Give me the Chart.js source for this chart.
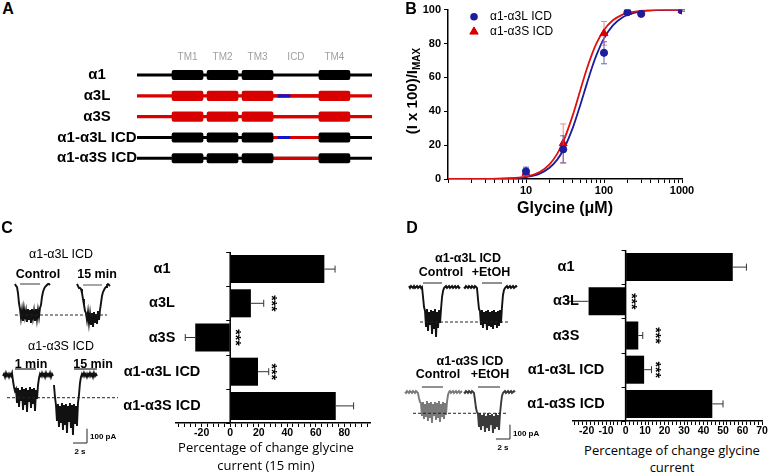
<!DOCTYPE html>
<html><head><meta charset="utf-8">
<script src="https://cdn.jsdelivr.net/npm/chart.js@4.4.1/dist/chart.umd.min.js"></script>
<style>
html,body{margin:0;padding:0;background:#fff;}
#root{position:relative;width:769px;height:473px;overflow:hidden;background:#fff;font-family:"Liberation Sans",Arial,sans-serif;color:#000;}
#root canvas{position:absolute;}
.t{position:absolute;white-space:nowrap;transform:translate(-50%,-50%);line-height:1;}
.l{position:absolute;white-space:nowrap;transform:translate(0,-50%);line-height:1;}
</style></head>
<body><div id="root"></div>
<script>
// ---------------- DATA ----------------
// Panel A: construct schematic (relative position along subunit, 0-100)
const schemeRows = ['α1','α3L','α3S','α1-α3L ICD','α1-α3S ICD'];
const domainLabels = ['TM1','TM2','TM3','ICD','TM4'];
const tmStart = [14.9, 29.8, 44.7, 77.4];
const tmEnd   = [28.1, 43.0, 57.9, 90.6];
const icdSpan = [57.9, 77.4];
const insertSpan = [60.0, 65.1];
const rowIsA3    = [false, true, true, false, false];
const rowA3Icd   = [false, true, true, true, true];
const rowInsert  = [false, true, false, true, false];

// Panel B: glycine concentration-response
const l3X   = [10, 30, 100, 200, 300, 1000];
const l3Y   = [4.5, 17.5, 74.5, 98.5, 97.5, 99.5];
const l3Err = [2.5, 8, 6.5, 1, 1, 0.5];
const s3X   = [10, 30, 100, 200, 1000];
const s3Y   = [3.5, 21, 86, 98.5, 99.5];
const s3Err = [1.5, 11.5, 7, 1, 0.5];
const fitX  = [1, 2, 5, 8, 10, 15, 20, 25, 30, 40, 50, 60, 70, 80, 100, 130, 170, 200, 300, 500, 1000];
const l3Fit = [0, 0.02, 0.19, 0.63, 1.13, 3.2, 6.6, 11.3, 17.1, 30.5, 44.1, 56.0, 65.7, 73.1, 83.0, 90.7, 95.2, 96.8, 98.9, 99.7, 99.9];
const s3Fit = [0, 0.02, 0.22, 0.78, 1.41, 4.1, 8.6, 14.7, 22.0, 38.0, 52.9, 64.8, 73.6, 80.1, 88.0, 93.7, 96.9, 98.0, 99.3, 99.8, 99.9];
const logTickVals = [1,2,3,4,5,6,7,8,9,10,20,30,40,50,60,70,80,90,100,200,300,400,500,600,700,800,900,1000];
const logTickLabels = [10, 100, 1000];
const bYTicks = [0, 20, 40, 60, 80, 100];

// Panels C & D: bar charts
const barCats = ['α1','α3L','α3S','α1-α3L ICD','α1-α3S ICD'];
const c15Mean = [66, 14.5, -24.5, 19.5, 74];
const c15Sem  = [7.5, 9, 7, 7.5, 12.5];
const c15Sig  = ['', '***', '***', '***', ''];
const cTickLabels = [-20, 0, 20, 40, 60, 80];
const dEtohMean = [55, -19, 6.5, 9.5, 44.5];
const dEtohSem  = [7, 10.5, 2.3, 3.8, 5.5];
const dEtohSig  = ['', '***', '***', '***', ''];
const dTickLabels = [-20, -10, 0, 10, 20, 30, 40, 50, 60, 70];

// Current traces (pA, sampled every TRACE_DT s)
const TRACE_DT = 1/7;
const cL3Ctrl = [21,7,0,-42,-112,-154,-217,-161,-238,-154,-210,-168,-245,-154,-231,-161,-252,-154,-217,-168,-238,-154,-224,-161,-210,-147,-126,-70,-35,-14,0,7,14,21,21,14];
const cL3Min15 = [21,7,-7,-7,-14,-42,-84,-126,-168,-182,-231,-175,-252,-189,-266,-182,-280,-175,-245,-189,-259,-168,-231,-161,-112,-63,-35,-21,-7,0,14,21,14,7];
const cS3Min1 = [-7,7,-14,14,-7,7,-14,7,-7,14,-42,-84,-112,-98,-196,-91,-224,-105,-182,-84,-245,-98,-210,-91,-259,-105,-189,-84,-231,-98,-203,-91,-252,-105,-168,-70,-21,7,-7,14,-7,7,-14,14,-7,7,-7,14,-14,7,-7];
const cS3Min15 = [-70,-154,-210,-322,-203,-364,-217,-336,-196,-385,-210,-350,-203,-406,-217,-329,-196,-371,-210,-420,-203,-343,-217,-357,-196,-140,-56,-14,7,-7,14,-7,7,-14,7,-7,14,-7,7,-14,14,-7,7,-7];
const dL3Ctrl = [7,-7,7,0,-7,7,-7,0,7,-7,0,7,-7,0,-70,-140,-168,-280,-154,-308,-175,-266,-161,-329,-168,-294,-154,-350,-175,-287,-161,-252,-154,-70,-28,-7,0,7,-7,0,7,-7,0,7,-7,0,7,-7,0,7,-7,0];
const dL3Etoh = [0,-7,7,0,-7,7,0,-7,7,0,-7,7,0,-7,-84,-154,-168,-266,-161,-287,-175,-259,-168,-301,-161,-273,-175,-280,-168,-294,-161,-266,-175,-287,-168,-273,-161,-252,-140,-56,-21,-7,0,7,-7,0,7,-7,0,7,-7,0,7,0];
const dS3Ctrl = [0,-7,7,0,-7,7,0,-7,7,0,-7,7,0,-7,-42,-70,-77,-168,-70,-189,-84,-175,-63,-203,-77,-182,-70,-217,-84,-168,-70,-196,-77,-182,-63,-210,-84,-175,-70,-189,-77,-161,-70,-21,0,7,-7,0,7,-7,0,7,-7,0,7,-7,0,7];
const dS3Etoh = [0,-7,7,0,-7,7,0,-7,7,0,-7,-56,-112,-140,-154,-245,-147,-266,-161,-238,-154,-280,-168,-252,-147,-273,-161,-231,-154,-287,-168,-259,-147,-245,-161,-266,-154,-84,-28,-7,0,7,-7,0,7,-7,0,7,-7,0,7,0];

// ---------------- SETUP ----------------
const FONT = '"Liberation Sans", Arial, sans-serif';
Chart.defaults.font.family = FONT;
Chart.defaults.color = '#000';
Chart.defaults.animation = false;
Chart.defaults.responsive = false;
Chart.defaults.devicePixelRatio = 1;
Chart.defaults.events = [];
Chart.defaults.plugins.legend.display = false;
Chart.defaults.plugins.tooltip.enabled = false;

const root = document.getElementById('root');
function addCanvas(left, top, w, h) {
  const c = document.createElement('canvas');
  c.width = w; c.height = h;
  c.style.left = left + 'px'; c.style.top = top + 'px';
  c.style.width = w + 'px'; c.style.height = h + 'px';
  root.appendChild(c);
  return c;
}
function txt(s, x, y, font, cls, extra) {
  const d = document.createElement('div');
  d.className = cls || 't';
  d.style.left = x + 'px'; d.style.top = y + 'px';
  d.style.font = font;
  if (extra) d.style.cssText += extra;
  d.innerHTML = s;
  root.appendChild(d);
  return d;
}
const pts = (xs, ys) => xs.map((x, i) => ({x, y: ys[i]}));
const series = (vals, t0) => vals.map((v, i) => ({x: t0 + i * TRACE_DT, y: v}));

const BLACK = '#000', RED = '#d90000', BLUE = '#1515c8';

// ---------------- PANEL A ----------------
const domainMid = [
  (tmStart[0]+tmEnd[0])/2, (tmStart[1]+tmEnd[1])/2, (tmStart[2]+tmEnd[2])/2,
  (icdSpan[0]+icdSpan[1])/2, (tmStart[3]+tmEnd[3])/2
];
const schemePlugin = {
  id: 'scheme',
  afterDatasetsDraw(chart) {
    const {ctx, scales: {x, y}} = chart;
    ctx.save();
    ctx.fillStyle = '#000';
    ctx.font = 'bold 15px ' + FONT;
    ctx.textAlign = 'center'; ctx.textBaseline = 'middle';
    schemeRows.forEach((r, i) => ctx.fillText(r, 97, y.getPixelForValue(i)));
    ctx.fillStyle = '#a0a0a0';
    ctx.font = '10px ' + FONT;
    domainMid.forEach((m, i) => ctx.fillText(domainLabels[i], x.getPixelForValue(m), 17));
    ctx.restore();
  }
};
const rowColors = rowIsA3.map(a => a ? RED : BLACK);
const aDatasets = [
  {data: schemeRows.map(() => [0, 100]), backgroundColor: rowColors, barThickness: 2.5, grouped: false, order: 5},
  {data: rowA3Icd.map(f => f ? icdSpan : null), backgroundColor: RED, barThickness: 2.5, grouped: false, order: 4},
  {data: rowInsert.map(f => f ? insertSpan : null), backgroundColor: BLUE, barThickness: 2.5, grouped: false, order: 3},
  ...tmStart.map((s, i) => ({data: schemeRows.map(() => [s, tmEnd[i]]), backgroundColor: rowColors,
      barThickness: 9.5, borderRadius: 2, borderSkipped: false, grouped: false, order: 1}))
];
new Chart(addCanvas(0, 40, 380, 140), {
  type: 'bar',
  data: {labels: schemeRows, datasets: aDatasets},
  options: {
    indexAxis: 'y',
    layout: {padding: {left: 137, right: 8, top: 24.6, bottom: 11.3}},
    scales: {
      x: {type: 'linear', min: 0, max: 100, display: false},
      y: {display: false}
    }
  },
  plugins: [schemePlugin]
});

// ---------------- PANEL B ----------------
const errPlugin = {
  id: 'errB',
  beforeDatasetDraw(chart, args) {
    const ds = chart.data.datasets[args.index];
    if (!ds.errorBars) return;
    const {ctx, scales: {x, y}} = chart;
    ctx.save();
    ctx.strokeStyle = ds.errColor; ctx.lineWidth = 1;
    ds.data.forEach((p, i) => {
      const e = ds.errorBars[i];
      const px = x.getPixelForValue(p.x);
      const y1 = y.getPixelForValue(p.y + e), y2 = y.getPixelForValue(Math.max(0, p.y - e));
      ctx.beginPath();
      ctx.moveTo(px, y1); ctx.lineTo(px, y2);
      ctx.moveTo(px - 3, y1); ctx.lineTo(px + 3, y1);
      ctx.moveTo(px - 3, y2); ctx.lineTo(px + 3, y2);
      ctx.stroke();
    });
    ctx.restore();
  }
};
const legendB = {
  id: 'legB',
  afterDraw(chart) {
    const ctx = chart.ctx;
    ctx.save();
    ctx.fillStyle = '#1c1c9c';
    ctx.beginPath(); ctx.arc(94, 16.7, 3.8, 0, Math.PI*2); ctx.fill();
    ctx.fillStyle = RED; ctx.strokeStyle = RED;
    Chart.helpers.drawPoint(ctx, {pointStyle: 'triangle', radius: 4.8, rotation: 0, borderWidth: 1}, 94, 31.7);
    ctx.fill();
    ctx.fillStyle = '#000';
    ctx.font = '12px ' + FONT; ctx.textBaseline = 'middle'; ctx.textAlign = 'left';
    ctx.fillText('α1-α3L ICD', 110, 16.7);
    ctx.fillText('α1-α3S ICD', 110, 31.7);
    ctx.restore();
  }
};
new Chart(addCanvas(380, 0, 389, 200), {
  type: 'line',
  data: {datasets: [
    {data: pts(l3X, l3Y), showLine: false, pointStyle: 'circle', pointRadius: 3.6,
     backgroundColor: '#1c1c9c', borderColor: '#1c1c9c', errorBars: l3Err, errColor: '#6464b4'},
    {data: pts(s3X, s3Y), showLine: false, pointStyle: 'triangle', pointRadius: 4.6,
     backgroundColor: RED, borderColor: RED, errorBars: s3Err, errColor: '#ec8a8a'},
    {data: pts(fitX, s3Fit), borderColor: '#e01010', borderWidth: 1.8, pointRadius: 0, cubicInterpolationMode: 'monotone', fill: false},
    {data: pts(fitX, l3Fit), borderColor: '#1c1c9c', borderWidth: 1.8, pointRadius: 0, cubicInterpolationMode: 'monotone', fill: false}
  ]},
  options: {
    layout: {padding: {left: 0, right: 87, top: 8, bottom: 0}},
    scales: {
      x: {type: 'logarithmic', min: 1, max: 1000,
          afterBuildTicks: s => { s.ticks = logTickVals.map(v => ({value: v})); },
          afterFit: s => { s.height = 21; },
          ticks: {autoSkip: false, maxRotation: 0, padding: 1, font: {size: 11, weight: 'bold'}, color: '#000',
                  callback: v => logTickLabels.includes(v) ? String(v) : ''},
          grid: {drawOnChartArea: false, tickLength: 4, color: '#000'},
          border: {color: '#000', width: 1.5}},
      y: {type: 'linear', min: 0, max: 100,
          afterBuildTicks: s => { s.ticks = bYTicks.map(v => ({value: v})); },
          afterFit: s => { s.width = 68; },
          ticks: {padding: 3, font: {size: 11, weight: 'bold'}, color: '#000'},
          grid: {drawOnChartArea: false, tickLength: 4, color: '#000'},
          border: {color: '#000', width: 1.5}}
    }
  },
  plugins: [errPlugin, legendB]
});

// ---------------- BAR CHARTS (C, D) ----------------
const barDeco = {
  id: 'barDeco',
  afterDatasetsDraw(chart, args, opts) {
    const {ctx, chartArea: {top, bottom}, scales: {x, y}} = chart;
    const ds = chart.data.datasets[0];
    const x0 = x.getPixelForValue(0);
    ctx.save();
    ctx.strokeStyle = '#000'; ctx.lineWidth = 1.5;
    ctx.beginPath(); ctx.moveTo(x0, top); ctx.lineTo(x0, bottom); ctx.stroke();
    const n = chart.data.labels.length, step = (bottom - top) / n;
    ctx.lineWidth = 1;
    for (let k = 0; k <= n; k++) {
      const yy = Math.round(top + k * step) + 0.5;
      ctx.beginPath(); ctx.moveTo(x0 - 4, yy); ctx.lineTo(x0, yy); ctx.stroke();
    }
    ctx.strokeStyle = '#333';
    ds.data.forEach((v, i) => {
      const e = ds.errorBars[i], yc = y.getPixelForValue(i);
      const xa = x.getPixelForValue(v), xb = x.getPixelForValue(v + Math.sign(v) * e);
      ctx.beginPath();
      ctx.moveTo(xa, yc); ctx.lineTo(xb, yc);
      ctx.moveTo(xb, yc - 3.5); ctx.lineTo(xb, yc + 3.5);
      ctx.stroke();
    });
    ctx.fillStyle = '#000';
    ctx.font = 'bold 14.5px ' + FONT; ctx.textAlign = 'center'; ctx.textBaseline = 'middle';
    chart.data.labels.forEach((l, i) => ctx.fillText(l, opts.labelX, y.getPixelForValue(i)));
    ctx.font = 'bold 14px ' + FONT;
    ds.sig.forEach((s, i) => {
      if (!s) return;
      ctx.save();
      ctx.translate(x.getPixelForValue(opts.starX[i]), y.getPixelForValue(i));
      ctx.rotate(Math.PI / 2);
      ctx.fillText(s, 0, 4);
      ctx.restore();
    });
    ctx.restore();
  }
};
function barChart(canvas, means, sems, sig, xmin, xmax, minorStep, labels, pad, labelX, starX) {
  const minorTicks = [];
  for (let v = Math.ceil(xmin / minorStep) * minorStep; v <= xmax; v += minorStep) minorTicks.push(v);
  return new Chart(canvas, {
    type: 'bar',
    data: {labels: barCats, datasets: [{data: means, errorBars: sems, sig: sig, backgroundColor: '#000',
           barPercentage: 0.82, categoryPercentage: 1}]},
    options: {
      indexAxis: 'y',
      layout: {padding: pad},
      plugins: {barDeco: {labelX, starX}},
      scales: {
        x: {type: 'linear', min: xmin, max: xmax,
            afterBuildTicks: s => { s.ticks = minorTicks.map(v => ({value: v})); },
            afterFit: s => { s.height = 17; },
            ticks: {autoSkip: false, maxRotation: 0, padding: 0, font: {size: 10.5, weight: 'bold'}, color: '#000',
                    callback: v => labels.includes(v) ? String(v) : ''},
            grid: {drawOnChartArea: false, tickLength: 4, color: '#000'},
            border: {color: '#000', width: 1.5}},
        y: {display: false}
      }
    },
    plugins: [barDeco]
  });
}
barChart(addCanvas(100, 240, 290, 200), c15Mean, c15Sem, c15Sig, -38, 98, 4, cTickLabels,
         {left: 76, right: 20, top: 12, bottom: 0}, 62, [null, 31, 6.3, 31, null]);
barChart(addCanvas(500, 238, 269, 200), dEtohMean, dEtohSem, dEtohSig, -27, 70, 2, dTickLabels,
         {left: 73, right: 7, top: 12, bottom: 0}, 66, [null, 4.9, 17.2, 17.2, null]);

// ---------------- CURRENT TRACES ----------------
function traceChart(canvas, w, h, yMax, datasets) {
  return new Chart(canvas, {
    type: 'line',
    data: {datasets: datasets.map(d => Object.assign({pointRadius: 0, borderWidth: 1, tension: 0, fill: false}, d))},
    options: {
      layout: {padding: 0},
      scales: {
        x: {type: 'linear', min: 0, max: w / 7, display: false},
        y: {type: 'linear', min: yMax - h * 7, max: yMax, display: false}
      }
    }
  });
}
const seg = (t1, t2, I) => [{x: t1, y: I}, {x: t2, y: I}];
const DASH = {borderColor: '#222', borderDash: [3, 2], borderWidth: 1};
const TW = 1.9;

traceChart(addCanvas(0, 270, 125, 70), 125, 70, 119, [
  {data: seg(2.14, 15.29, -196), ...DASH},
  {data: series(cL3Ctrl, 2.14), borderColor: '#111', borderWidth: TW},
  {data: series(cL3Min15, 11.0), borderColor: '#111', borderWidth: TW},
  {data: seg(2.86, 5.71, 21), borderColor: '#666', borderWidth: 1.3},
  {data: seg(11.86, 14.57, 14), borderColor: '#777', borderWidth: 1.3}
]);
traceChart(addCanvas(0, 355, 125, 95), 125, 95, 140, [
  {data: seg(1.0, 16.86, -159), ...DASH},
  {data: series(cS3Min1, 0.43), borderColor: '#111', borderWidth: TW},
  {data: series(cS3Min15, 7.71), borderColor: '#111', borderWidth: TW},
  {data: seg(2.14, 5.14, 42), borderColor: '#777', borderWidth: 2},
  {data: seg(10.57, 13.86, 42), borderColor: '#777', borderWidth: 2},
  {data: [{x: 10.43, y: -476}, {x: 12.43, y: -476}, {x: 12.43, y: -376}], borderColor: '#222', borderWidth: 1}
]);
traceChart(addCanvas(400, 275, 125, 70), 125, 70, 84, [
  {data: seg(2.86, 15.71, -245), ...DASH},
  {data: series(dL3Ctrl, 1.29), borderColor: '#111', borderWidth: TW},
  {data: series(dL3Etoh, 9.14), borderColor: '#111', borderWidth: TW},
  {data: seg(3.29, 6.0, 28), borderColor: '#222', borderWidth: 1},
  {data: seg(11.71, 14.57, 28), borderColor: '#222', borderWidth: 1}
]);
traceChart(addCanvas(400, 380, 125, 75), 125, 75, 84, [
  {data: seg(1.86, 15.29, -149), ...DASH},
  {data: series(dS3Ctrl, 0.71), borderColor: '#7a7a7a', borderWidth: TW},
  {data: series(dS3Etoh, 9.14), borderColor: '#3a3a3a', borderWidth: TW},
  {data: seg(3.14, 6.14, 35), borderColor: '#222', borderWidth: 1},
  {data: seg(11.14, 14.29, 35), borderColor: '#222', borderWidth: 1},
  {data: [{x: 13.71, y: -329}, {x: 15.71, y: -329}, {x: 15.71, y: -229}], borderColor: '#222', borderWidth: 1}
]);

// ---------------- TEXT ----------------
const B16 = 'bold 16px ' + FONT;
txt('A', 8, 9, B16); txt('B', 411, 9, B16); txt('C', 7, 228, B16); txt('D', 412, 228, B16);
txt('Glycine (μM)', 565, 208, 'bold 16px ' + FONT);
txt('(I x 100)/I<sub style="font-size:10px;vertical-align:-3px">MAX</sub>', 412, 91, 'bold 15px ' + FONT, 't',
    'transform:translate(-50%,-50%) rotate(-90deg);');
const TR = '12.5px ' + FONT, TRB = 'bold 12.5px ' + FONT, SM = 'bold 8px ' + FONT;
txt('α1-α3L ICD', 61, 254, TR); txt('Control', 38, 274, TRB); txt('15 min', 97, 274, TRB);
txt('α1-α3S ICD', 61, 346, TR); txt('1 min', 31, 364, TRB); txt('15 min', 93, 364, TRB);
txt('100 pA', 90, 436, SM, 'l'); txt('2 s', 80, 451, SM);
const AX = '13px "Open Sans", sans-serif';
txt('Percentage of change glycine', 266, 447, AX); txt('current (15 min)', 266, 465, AX);
txt('α1-α3L ICD', 468, 258, TRB); txt('Control', 441, 272, TRB); txt('+EtOH', 491, 272, TRB);
txt('α1-α3S ICD', 470, 361, TRB); txt('Control', 438, 374, TRB); txt('+EtOH', 490, 374, TRB);
txt('100 pA', 513, 433, SM, 'l'); txt('2 s', 503, 447, SM);
txt('Percentage of change glycine', 672, 450, AX); txt('current', 672, 467, AX);
</script></body></html>
